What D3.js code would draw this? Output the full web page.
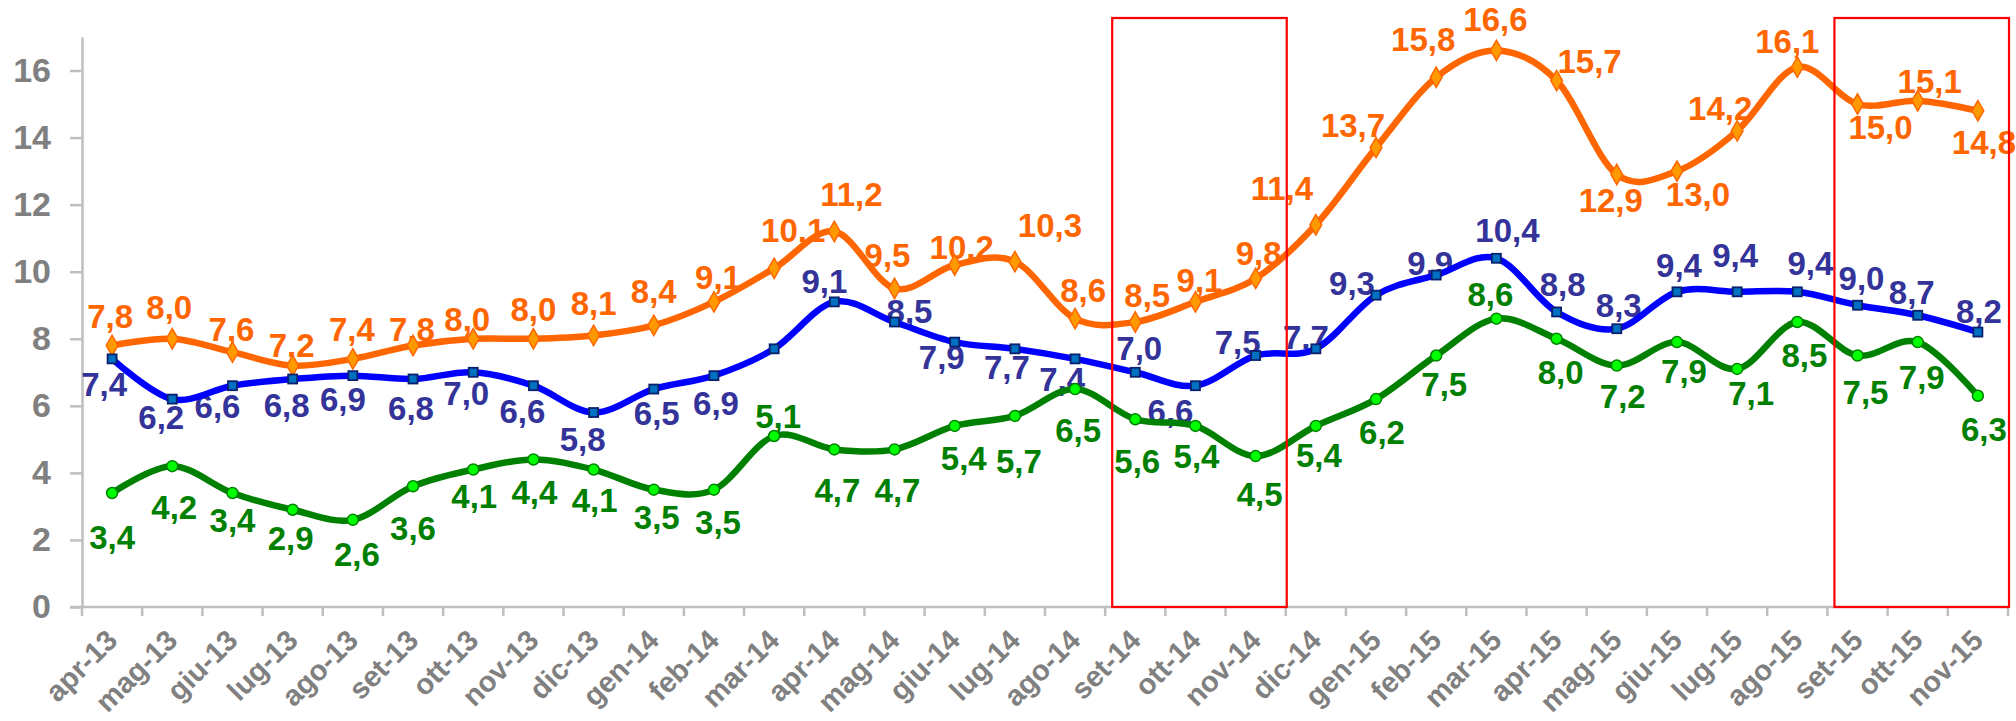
<!DOCTYPE html>
<html>
<head>
<meta charset="utf-8">
<script src="https://cdn.jsdelivr.net/npm/d3@7"></script>
<style>
  html, body { margin: 0; padding: 0; background: #fff; }
  svg { display: block; font-family: "Liberation Sans", Arial, sans-serif; font-weight: bold; }
</style>
</head>
<body>
<div id="chart"></div>
<script>
const months = ["apr-13","mag-13","giu-13","lug-13","ago-13","set-13","ott-13","nov-13","dic-13",
  "gen-14","feb-14","mar-14","apr-14","mag-14","giu-14","lug-14","ago-14","set-14","ott-14","nov-14","dic-14",
  "gen-15","feb-15","mar-15","apr-15","mag-15","giu-15","lug-15","ago-15","set-15","ott-15","nov-15"];

const orange = [7.8,8.0,7.6,7.2,7.4,7.8,8.0,8.0,8.1,8.4,9.1,10.1,11.2,9.5,10.2,10.3,8.6,8.5,9.1,9.8,11.4,
  13.7,15.8,16.6,15.7,12.9,13.0,14.2,16.1,15.0,15.1,14.8];
const blue = [7.4,6.2,6.6,6.8,6.9,6.8,7.0,6.6,5.8,6.5,6.9,7.7,9.1,8.5,7.9,7.7,7.4,7.0,6.6,7.5,7.7,
  9.3,9.9,10.4,8.8,8.3,9.4,9.4,9.4,9.0,8.7,8.2];
const green = [3.4,4.2,3.4,2.9,2.6,3.6,4.1,4.4,4.1,3.5,3.5,5.1,4.7,4.7,5.4,5.7,6.5,5.6,5.4,4.5,5.4,
  6.2,7.5,8.6,8.0,7.2,7.9,7.1,8.5,7.5,7.9,6.3];

const yTicks = [0,2,4,6,8,10,12,14,16];
const highlights = [["set-14","nov-14"],["set-15","nov-15"]];

// label placement (dx from point, dy to baseline), hand-placed like in the original
const orangeLab = [[-2,-17],[-3,-20],[-1,-11],[-1,-9],[-1,-18],[-1,-4],[-6,-8],[0,-18],[0,-20],[0,-22],
  [4,-13],[19,-26],[17,-25],[-7,-21],[7,-6],[35,-25],[8,-17],[12,-15],[4,-10],[3,-13],[-34,-25],
  [-23,-11],[-13,-26],[-1,-19],[33,-8],[-6,38],[21,35],[-17,-11],[-10,-14],[23,35],[12,-8],[6,43]];
const blueLab = [[-8,37],[-11,30],[-15,32],[-6,38],[-10,35],[-2,41],[-7,33],[-11,37],[-11,38],[3,36],
  [2,39],null,[-10,-9],[15,1],[-13,27],[-8,30],[-13,32],[4,-12],[-25,37],[-18,-2],[-10,0],
  [-24,0],[-6,0],[11,-16],[6,-16],[2,-12],[2,-15],[-2,-25],[13,-17],[4,-15],[-6,-11],[1,-9]];
const greenLab = [[0,56],[2,53],[0,39],[-2,40],[4,46],[0,54],[1,38],[1,45],[1,42],[3,39],
  [4,44],[4,-8],[3,53],[3,53],[9,44],[4,57],[3,53],[2,54],[1,42],[4,50],[3,41],
  [6,45],[8,40],[-6,-13],[4,45],[6,42],[7,41],[14,36],[7,45],[8,48],[4,47],[6,45]];

const W = 2016, H = 721;
const m = {left: 82, right: 8, top: 37, bottom: 114};

const svg = d3.select("#chart").append("svg")
  .attr("width", W).attr("height", H)
  .attr("viewBox", "0 0 " + W + " " + H);

const x = d3.scaleBand().domain(months).range([m.left, W - m.right]);
const y = d3.scaleLinear().domain([0, 17]).range([H - m.bottom, m.top]);
const bw = x.bandwidth();
const cx = d => x(d) + bw / 2;

// y axis
const yAxis = svg.append("g")
  .attr("transform", "translate(" + m.left + ",0)")
  .call(d3.axisLeft(y).tickValues(yTicks).tickSize(12).tickSizeOuter(0).tickPadding(19));
yAxis.select(".domain").attr("stroke", "#bfbfbf").attr("stroke-width", 2.5);
yAxis.selectAll(".tick line").attr("stroke", "#bfbfbf").attr("stroke-width", 2.5);
yAxis.selectAll(".tick text")
  .attr("fill", "#808080").style("font-size", "34px").style("font-weight", "bold")
  .style("font-family", "'Liberation Sans', Arial, sans-serif");

// x axis
const gx = svg.append("g");
gx.append("line")
  .attr("x1", m.left - 12).attr("x2", W - m.right)
  .attr("y1", y(0)).attr("y2", y(0))
  .attr("stroke", "#bfbfbf").attr("stroke-width", 2.5);
gx.selectAll(".xt").data(months.concat(["end"])).enter().append("line")
  .attr("x1", d => d === "end" ? W - m.right : x(d))
  .attr("x2", d => d === "end" ? W - m.right : x(d))
  .attr("y1", y(0)).attr("y2", y(0) + 9)
  .attr("stroke", "#bfbfbf").attr("stroke-width", 2.5);
gx.selectAll(".xl").data(months).enter().append("text")
  .attr("transform", d => "translate(" + (cx(d) + 7) + "," + (y(0) + 35) + ") rotate(-45)")
  .attr("text-anchor", "end")
  .attr("fill", "#808080")
  .style("font-size", "29px")
  .text(d => d);

const series = [
  {vals: orange, lab: orangeLab, line: "#ff6600", text: "#ff6600", marker: "diamond"},
  {vals: blue, lab: blueLab, line: "#0000ff", text: "#333399", marker: "square"},
  {vals: green, lab: greenLab, line: "#008000", text: "#008000", marker: "circle"}
];
const fmt = v => v.toFixed(1).replace(".", ",");

// labels first (the lines run over them in the original)
series.forEach(s => {
  svg.append("g").selectAll("text").data(s.vals.map((v, i) => ({v, i})).filter(d => s.lab[d.i]))
    .enter().append("text")
    .attr("x", d => cx(months[d.i]) + s.lab[d.i][0])
    .attr("y", d => y(d.v) + s.lab[d.i][1])
    .attr("text-anchor", "middle")
    .attr("fill", s.text)
    .style("font-size", "33px")
    .text(d => fmt(d.v));
});

const line = d3.line()
  .x((d, i) => cx(months[i]))
  .y(d => y(d))
  .curve(d3.curveCardinal.tension(0));

series.forEach(s => {
  svg.append("path").datum(s.vals)
    .attr("d", line)
    .attr("fill", "none")
    .attr("stroke", s.line)
    .attr("stroke-width", 6.5)
    .attr("stroke-linejoin", "round")
    .attr("stroke-linecap", "round");

  const g = svg.append("g");
  const pts = g.selectAll(".pt").data(s.vals).enter();
  if (s.marker === "diamond") {
    pts.append("path")
      .attr("d", d3.symbol(d3.symbolDiamond, 120))
      .attr("transform", (d, i) => "translate(" + cx(months[i]) + "," + y(d) + ")")
      .attr("fill", "#ff9900").attr("stroke", "#ff6600").attr("stroke-width", 1.5);
  } else if (s.marker === "square") {
    pts.append("rect")
      .attr("x", (d, i) => cx(months[i]) - 4.5).attr("y", d => y(d) - 4.5)
      .attr("width", 9).attr("height", 9)
      .attr("fill", "#0070c0").attr("stroke", "#0a1f6e").attr("stroke-width", 1.8);
  } else {
    pts.append("circle")
      .attr("cx", (d, i) => cx(months[i])).attr("cy", d => y(d))
      .attr("r", 5.5)
      .attr("fill", "#00ff00").attr("stroke", "#008000").attr("stroke-width", 1.5);
  }
});

// red highlight boxes
svg.append("g").selectAll("rect").data(highlights).enter().append("rect")
  .attr("x", d => x(d[0]) + 7)
  .attr("y", 18)
  .attr("width", d => x(d[1]) + bw + 1 - (x(d[0]) + 7))
  .attr("height", d => y(0) - 18)
  .attr("fill", "none")
  .attr("stroke", "#ff0000")
  .attr("stroke-width", 2.2);
</script>
</body>
</html>
